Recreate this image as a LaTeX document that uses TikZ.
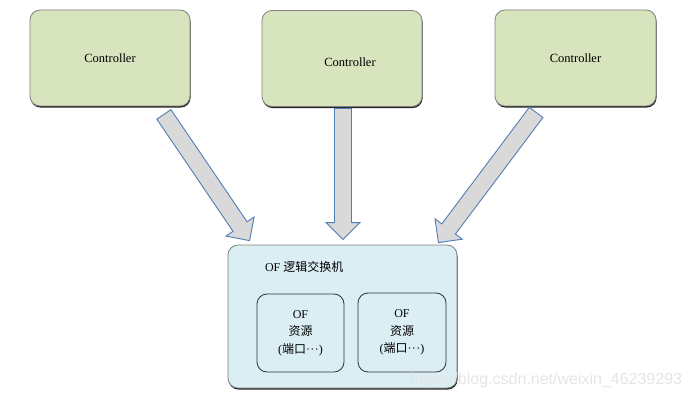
\documentclass[tikz,border=0pt]{standalone}
\usepackage{fontspec}
\setmainfont{Liberation Serif}
\newfontfamily\cjk{Noto Sans CJK SC}
\newfontfamily\wmfont{Liberation Sans}
\usetikzlibrary{calc,shadows}

\definecolor{ctrlgreen}{HTML}{D7E4BD}
\definecolor{swblue}{HTML}{DAEEF3}
\definecolor{arrowgray}{HTML}{D9D9D9}
\definecolor{arrowblue}{HTML}{4F7DB5}

% block arrow from #1 to #2
\newcommand\fatarrow[2]{%
	\coordinate (hd) at ($(#2)!17pt!(#1)$);
	\draw[fatarr] ($(#1)!8.5pt!90:(#2)$) -- ($(hd)!8.5pt!90:(#2)$) -- ($(hd)!17pt!90:(#2)$) -- (#2)
		-- ($(hd)!17pt!-90:(#2)$) -- ($(hd)!8.5pt!-90:(#2)$) -- ($(#1)!8.5pt!-90:(#2)$) -- cycle;}

\begin{document}
\begin{tikzpicture}[x=1pt,y=1pt]
	\useasboundingbox (0,0) rectangle (691,-401);
	\begin{scope}[line width=0.8pt]
		\tikzstyle{ctrl}=[draw=black!50,fill=ctrlgreen,rounded corners=10pt,minimum width=160pt,minimum height=96pt,drop shadow={shadow xshift=.6pt,shadow yshift=-1.6pt,fill=black!85,opacity=1},font=\fontsize{12.5}{15}\selectfont];
		\tikzstyle{res}=[draw=black!80,rounded corners=10pt,minimum width=87pt,minimum height=78pt,align=center,font=\fontsize{12}{17.5}\selectfont];
		\tikzstyle{fatarr}=[draw=arrowblue,fill=arrowgray,line width=0.9pt,line join=miter];
		\path (110,  -58  ) node[ctrl] (c1) {Controller};
		\path (342,  -58.5) node[ctrl,text height=16pt] (c2) {\hspace*{16pt}Controller};
		\path (575.5,-58  ) node[ctrl,minimum width=161pt] (c3) {Controller};
		\path (342.5,-316.5) node[ctrl,fill=swblue,minimum width=229pt,minimum height=143pt] (sw) {};
		\path ([shift={(37,-22)}]sw.north west) node[anchor=west,inner sep=0pt,font=\fontsize{12}{14}\selectfont] (title) {OF {\cjk 逻辑交换机}};
		\path (300.5,-333  ) node[res] (r1) {OF\\{\cjk 资源}\\({\cjk 端口}·\kern.3pt·\kern.3pt·)};
		\path (402,  -332.5) node[res,minimum width=88pt,minimum height=79pt] (r2) {OF\\{\cjk 资源}\\({\cjk 端口}·\kern.3pt·\kern.3pt·)};

		\coordinate (t1) at ([shift={(-26.5,-8)}]c1.south east);
		\coordinate (h1) at ([shift={(22,4)}]sw.north west);
		\coordinate (t2) at ([shift={(1,-1.5)}]c2.south);
		\coordinate (h2) at ([shift={(0.5,5)}]sw.north);
		\coordinate (t3) at ([shift={(41.5,-6)}]c3.south west);
		\coordinate (h3) at ([shift={(-19,2)}]sw.north east);
		\fatarrow{t1}{h1}
		\fatarrow{t2}{h2}
		\fatarrow{t3}{h3}

		\path (546,-380) node[text=black!10,font=\wmfont\fontsize{16}{18}\selectfont] (wm) {https://blog.csdn.net/weixin\_46239293};
	\end{scope}
\end{tikzpicture}
\end{document}
